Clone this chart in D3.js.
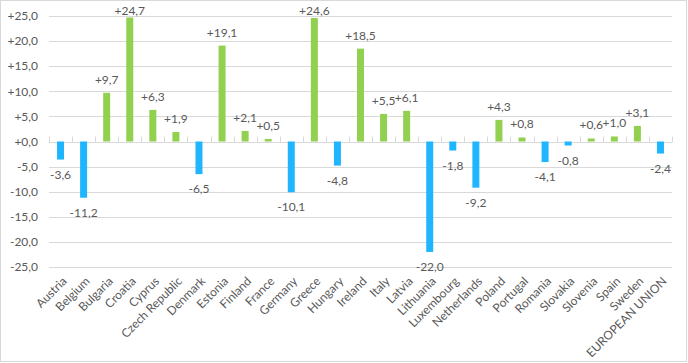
<!DOCTYPE html>
<html>
<head>
<meta charset="utf-8">
<script src="https://cdn.jsdelivr.net/npm/d3@7"></script>
<style>
  body { margin: 0; background: #fff; }
  svg text { font-family: "Lato", "Noto Sans", sans-serif; fill: #595959; }
</style>
</head>
<body>
<svg></svg>
<script>
// Data
const countries = ["Austria", "Belgium", "Bulgaria", "Croatia", "Cyprus", "Czech Republic", "Denmark",
    "Estonia", "Finland", "France", "Germany", "Greece", "Hungary", "Ireland", "Italy", "Latvia",
    "Lithuania", "Luxembourg", "Netherlands", "Poland", "Portugal", "Romania", "Slovakia", "Slovenia",
    "Spain", "Sweden", "EUROPEAN UNION"];
const changes = [-3.6, -11.2, 9.7, 24.7, 6.3, 1.9, -6.5, 19.1, 2.1, 0.5, -10.1, 24.6, -4.8, 18.5,
    5.5, 6.1, -22.0, -1.8, -9.2, 4.3, 0.8, -4.1, -0.8, 0.6, 1.0, 3.1, -2.4];
const yTicks = [-25, -20, -15, -10, -5, 0, 5, 10, 15, 20, 25];

const width = 688, height = 363;
const plotLeft = 49, plotRight = 672, plotTop = 16, plotBottom = 267;

const svg = d3.select("svg")
    .attr("width", width)
    .attr("height", height);

// outer chart border
svg.append("rect")
    .attr("x", 0.5).attr("y", 0.5)
    .attr("width", 686).attr("height", 361)
    .attr("fill", "none")
    .attr("stroke", "#D9D9D9");

const x = d3.scaleBand().domain(countries).range([plotLeft, plotRight]);
const y = d3.scaleLinear().domain([-25, 25]).range([plotBottom, plotTop]);

// comma decimal, explicit sign
const fmt = v => (v < 0 ? "-" : "+") + Math.abs(v).toFixed(1).replace(".", ",");

// gridlines
svg.append("g")
    .selectAll("line")
    .data(yTicks)
    .join("line")
    .attr("x1", plotLeft).attr("x2", plotRight)
    .attr("y1", d => Math.round(y(d)) + 0.5)
    .attr("y2", d => Math.round(y(d)) + 0.5)
    .attr("stroke", "#D9D9D9");

// y labels
svg.append("g")
    .selectAll("text")
    .data(yTicks)
    .join("text")
    .attr("x", 38)
    .attr("y", d => y(d))
    .attr("dy", "0.35em")
    .attr("text-anchor", "end")
    .attr("font-size", 12)
    .text(d => fmt(d));

// category ticks on the zero line
const zeroY = Math.round(y(0)) + 0.5;
svg.append("g")
    .selectAll("line")
    .data(d3.range(countries.length + 1))
    .join("line")
    .attr("x1", i => Math.round(plotLeft + i * x.step()) + 0.5)
    .attr("x2", i => Math.round(plotLeft + i * x.step()) + 0.5)
    .attr("y1", zeroY - 6).attr("y2", zeroY)
    .attr("stroke", "#D9D9D9");

// bars
const barW = 7;
svg.append("g")
    .selectAll("rect")
    .data(countries)
    .join("rect")
    .attr("x", d => x(d) + x.bandwidth() / 2 - barW / 2)
    .attr("y", (d, i) => y(Math.max(0, changes[i])))
    .attr("width", barW)
    .attr("height", (d, i) => Math.abs(y(changes[i]) - y(0)))
    .attr("fill", (d, i) => changes[i] < 0 ? "#1FB6FF" : "#92D050");

// value labels (kept inside the chart area at the top)
svg.append("g")
    .selectAll("text")
    .data(countries)
    .join("text")
    .attr("x", d => x(d) + x.bandwidth() / 2)
    .attr("y", (d, i) => changes[i] < 0 ? y(changes[i]) + 19 : Math.max(15, y(changes[i]) - 9))
    .attr("text-anchor", "middle")
    .attr("font-size", 12)
    .text((d, i) => fmt(changes[i]));

// category labels
svg.append("g")
    .selectAll("text")
    .data(countries)
    .join("text")
    .attr("transform", d => `translate(${x(d) + x.bandwidth() / 2 + 4},${279}) rotate(-45)`)
    .attr("text-anchor", "end")
    .attr("dy", "0.35em")
    .attr("font-size", 12)
    .text(d => d);
</script>
</body>
</html>
